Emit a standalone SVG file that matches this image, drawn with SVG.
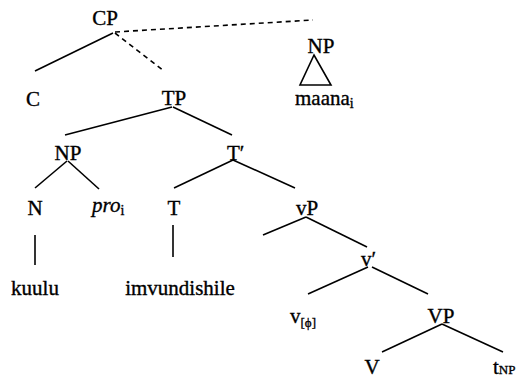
<svg xmlns="http://www.w3.org/2000/svg" width="521" height="378" viewBox="0 0 521 378">
<style>
text{font-family:"Liberation Serif","Times New Roman",serif;font-size:21px;fill:#000;stroke:#000;stroke-width:0.35}
.m{text-anchor:middle}
.sub{font-size:14px}
.sm{font-size:13px}
.it{font-style:italic}
#edges line,#edges polygon{stroke:#000;stroke-width:1.6;fill:none}
#edges .d{stroke-dasharray:5,4}
</style>
<rect width="521" height="378" fill="#fff"/>
<g id="edges">
<line x1="113" y1="33" x2="35" y2="71"/>
<line class="d" x1="115" y1="33" x2="164" y2="71"/>
<line class="d" x1="115" y1="32" x2="313" y2="20"/>
<line x1="172" y1="107" x2="65" y2="135"/>
<line x1="173" y1="107" x2="232" y2="135"/>
<line x1="67" y1="161" x2="35" y2="188"/>
<line x1="68" y1="161" x2="99" y2="189"/>
<line x1="233" y1="160" x2="174" y2="188"/>
<line x1="233" y1="160" x2="295" y2="188"/>
<line x1="35" y1="235" x2="35" y2="265"/>
<line x1="173" y1="225" x2="173" y2="257"/>
<line x1="306" y1="217" x2="263" y2="235"/>
<line x1="306" y1="217" x2="367" y2="247"/>
<line x1="368" y1="267" x2="308" y2="294"/>
<line x1="372" y1="267" x2="428" y2="294"/>
<line x1="442" y1="324" x2="382" y2="352"/>
<line x1="442" y1="324" x2="503" y2="352"/>
<polygon points="314,55 300,85 331,85"/>
</g>
<g id="CP"><text class="m" x="105" y="25">CP</text></g>
<g id="C"><text class="m" x="33" y="106">C</text></g>
<g id="TP"><text class="m" x="174" y="105">TP</text></g>
<g id="NP2"><text class="m" x="321" y="53">NP</text></g>
<g id="maana"><text x="295" y="105">maana<tspan class="sub" dy="3">i</tspan></text></g>
<g id="NP1"><text class="m" x="68" y="160">NP</text></g>
<g id="Tbar"><text x="227" y="160">T′</text></g>
<g id="N"><text class="m" x="35" y="215">N</text></g>
<g id="pro"><text x="92" y="212"><tspan class="it">pro</tspan><tspan class="sub" dy="3">i</tspan></text></g>
<g id="T"><text class="m" x="174" y="215">T</text></g>
<g id="kuulu"><text class="m" x="35" y="295">kuulu</text></g>
<g id="imvundishile"><text class="m" x="180" y="295">imvundishile</text></g>
<g id="vP"><text class="m" x="307" y="215">vP</text></g>
<g id="vbar"><text x="361" y="266">v′</text></g>
<g id="v"><text x="290" y="323">v<tspan class="sm" dy="4">[ϕ]</tspan></text></g>
<g id="VP"><text class="m" x="441" y="323">VP</text></g>
<g id="V"><text class="m" x="372" y="374">V</text></g>
<g id="tNP"><text x="493" y="374">t<tspan class="sm">NP</tspan></text></g>
</svg>
